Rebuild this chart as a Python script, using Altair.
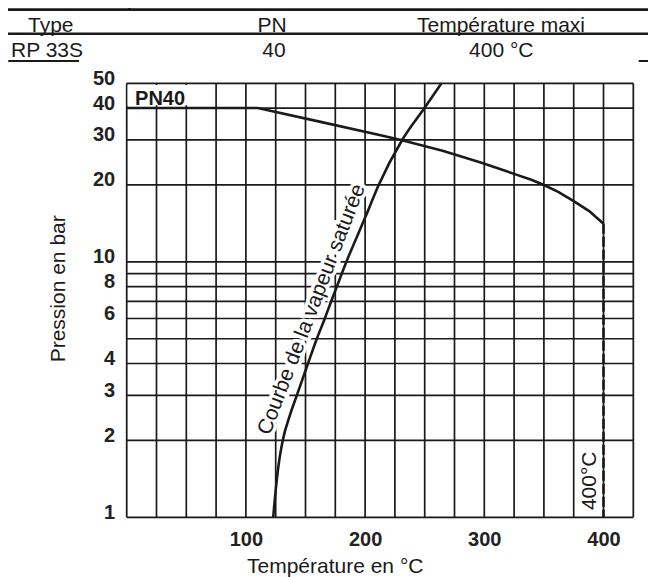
import altair as alt
import pandas as pd

# ---- data ----
temp_grid = list(range(0, 426, 25))
press_grid = [1, 2, 3, 4, 5, 6, 7, 8, 9, 10, 20, 30, 40, 50]

pn40_temp = [0, 110, 157, 213, 231, 265, 297, 325, 340, 350, 362, 375, 388, 400]
pn40_press = [40, 40, 35.8, 31.3, 29.9, 27.2, 24.5, 22.1, 20.9, 20.0, 18.8, 17.3, 15.8, 14.1]

sat_temp = [122.9, 125.9, 128.2, 130.9, 136.8, 142.7, 152.1, 159.5, 166.2, 171.5, 176.3, 184.3, 200.3, 211.4, 231.1, 249.8, 264.1]
sat_press = [1, 1.4, 1.7, 2, 2.5, 3, 4, 5, 6, 7, 8, 10, 15, 20, 30, 40, 50]

limit_temp = [400]
limit_press_top = [14.1]
limit_press_bottom = [1]

header_labels = ["Type", "PN", "Température maxi"]
row_labels = ["RP 33S", "40", "400 °C"]
title_text = "Limites d'emploi"

FONT = "Liberation Sans"
INK = "#1a1a1a"

xs = alt.Scale(domain=[0, 425], nice=False, zero=False)
ys = alt.Scale(type="log", domain=[1, 50], nice=False)

x_axis = alt.Axis(
    values=temp_grid, format="d",
    labelExpr="(datum.value % 100 === 0 && datum.value > 0) ? datum.label : ''",
    grid=False, ticks=False, domain=False,
    labelPadding=12, labelFont=FONT, labelFontSize=20, labelFontWeight="bold",
    labelColor="#222222", labelFlush=False, labelOverlap=False, labelBound=False,
    title="Température en °C", titleFont=FONT, titleFontSize=21,
    titleFontWeight="normal", titleColor=INK, titleX=208, titleY=55,
    titleBaseline="alphabetic", titleAlign="center",
)
y_axis = alt.Axis(
    values=press_grid, format="d",
    labelExpr="indexof([5, 7, 9], datum.value) >= 0 ? '' : datum.label",
    grid=False, ticks=False, domain=False,
    labelPadding=12, labelOffset=-5, labelFont=FONT, labelFontSize=20,
    labelFontWeight="bold", labelColor="#222222", labelFlush=False,
    labelOverlap=False, labelBound=False,
    title="Pression en bar", titleFont=FONT, titleFontSize=21,
    titleFontWeight="normal", titleColor=INK, titleAngle=270,
    titleX=-62, titleY=205, titleBaseline="alphabetic", titleAlign="center",
)

vgrid = alt.Chart(pd.DataFrame({"t": temp_grid})).mark_rule(color=INK, strokeWidth=1.7).encode(
    x=alt.X("t:Q", scale=xs, axis=x_axis),
)
hgrid = alt.Chart(pd.DataFrame({"p": press_grid})).mark_rule(color=INK, strokeWidth=1.7).encode(
    y=alt.Y("p:Q", scale=ys, axis=y_axis),
)

pn40_df = pd.DataFrame({"t": pn40_temp, "p": pn40_press})
sat_df = pd.DataFrame({"t": sat_temp, "p": sat_press})
limit_df = pd.DataFrame({"t": limit_temp, "p": limit_press_top, "p2": limit_press_bottom})

pn40_line = alt.Chart(pn40_df).mark_line(color=INK, strokeWidth=2.6).encode(
    x=alt.X("t:Q", scale=xs),
    y=alt.Y("p:Q", scale=ys),
)
sat_line = alt.Chart(sat_df).mark_line(color=INK, strokeWidth=2.6, interpolate="monotone").encode(
    x=alt.X("t:Q", scale=xs),
    y=alt.Y("p:Q", scale=ys),
)
limit_rule = alt.Chart(limit_df).mark_rule(color=INK, strokeWidth=2.6, strokeDash=[10, 3]).encode(
    x=alt.X("t:Q", scale=xs),
    y=alt.Y("p:Q", scale=ys),
    y2="p2:Q",
)

# white box behind the PN40 label (grid is interrupted there)
pn_box = alt.Chart(pd.DataFrame({"t": [0.8], "t2": [72], "p": [41.0], "p2": [49.2]})).mark_rect(
    color="white"
).encode(x=alt.X("t:Q", scale=xs), x2="t2:Q", y=alt.Y("p:Q", scale=ys), y2="p2:Q")

pn_df = pd.DataFrame({"t": [7], "p": [41.2], "label": ["PN40"]})
sat_df_lbl = pd.DataFrame({"t": [160], "p": [6.38], "label": ["Courbe de la vapeur saturée"]})
lim_df_lbl = pd.DataFrame({"t": [393.5], "p": [1.39], "label": ["400°C"]})

def label_layer(df, halo=False, **kw):
    style = dict(font=FONT, fontSize=21, color=INK, baseline="alphabetic")
    style.update(kw)
    if halo:
        style.update(stroke="white", strokeWidth=7, color="white")
    return alt.Chart(df).mark_text(**style).encode(
        x=alt.X("t:Q", scale=xs), y=alt.Y("p:Q", scale=ys), text="label:N"
    )

sat_halo = label_layer(sat_df_lbl, halo=True, align="center", angle=291)
lim_halo = label_layer(lim_df_lbl, halo=True, align="center", angle=270)
pn_label = label_layer(pn_df, align="left", fontSize=20, fontWeight="bold")
sat_label = label_layer(sat_df_lbl, align="center", angle=291)
limit_label = label_layer(lim_df_lbl, align="center", angle=270)

# ---- header (above the plot area) ----
def htext(label, x, y, align, weight="normal", size=21):
    return alt.Chart(pd.DataFrame({"label": [label]})).mark_text(
        align=align, baseline="alphabetic", font=FONT, fontSize=size,
        fontWeight=weight, color=INK
    ).encode(x=alt.value(x), y=alt.value(y), text="label:N")

def hline(x1, x2, y, w):
    return alt.Chart(pd.DataFrame({"k": [0]})).mark_rule(color=INK, strokeWidth=w).encode(
        x=alt.value(x1), x2=alt.value(x2), y=alt.value(y)
    )

def hbar(x1, x2, y1, y2):
    return alt.Chart(pd.DataFrame({"k": [1]})).mark_rect(color=INK).encode(
        x=alt.value(x1), x2=alt.value(x2), y=alt.value(y1), y2=alt.value(y2)
    )

header = [
    htext(title_text, -121.7, -76.0, "left", "bold", 20),
    hbar(-118.7, 521.3, -75.1, -72.4),
    htext(header_labels[0], -98.7, -51.6, "left"),
    htext(header_labels[1], 145.3, -51.6, "center"),
    htext(header_labels[2], 374.3, -51.6, "center"),
    hline(-118.7, 521.3, -49.6, 2.5),
    htext(row_labels[0], -115.7, -26.0, "left"),
    htext(row_labels[1], 147.3, -26.0, "center"),
    htext(row_labels[2], 374.6, -26.0, "center"),
    hline(-118.4, -47.7, -22.3, 2),
    hline(512.0, 521.3, -22.3, 2),
]

chart = alt.layer(
    vgrid, hgrid, pn_box, sat_halo, lim_halo,
    pn40_line, sat_line, limit_rule, pn_label, sat_label, limit_label, *header
).properties(
    width=506.6, height=434,
    autosize=alt.AutoSizeParams(type="none"),
    padding={"left": 118.7, "top": 75.3, "right": 14.7, "bottom": 59.7},
).configure_view(
    stroke=INK, strokeWidth=2
).configure(background="white")

chart.save("out.html", embed_options={"renderer": "svg", "actions": False})
